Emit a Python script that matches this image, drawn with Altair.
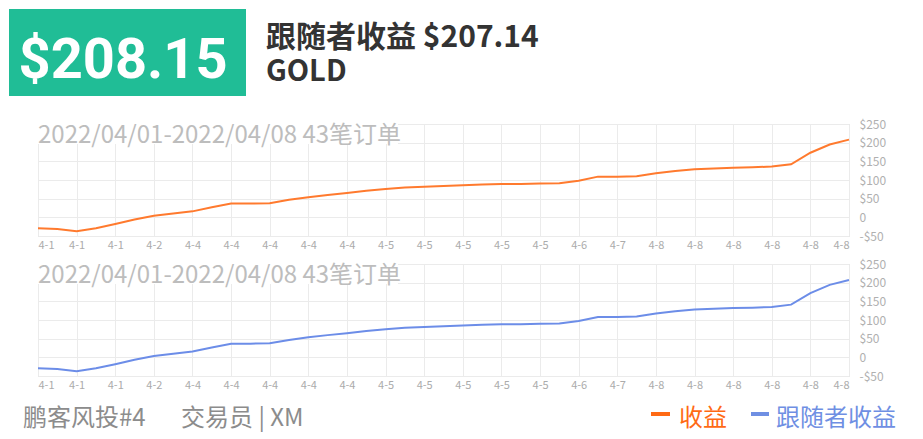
import altair as alt
import pandas as pd

# ---- data ----
order_dates = ['4-1', '4-1', '4-1', '4-1', '4-1', '4-2', '4-2', '4-4', '4-4', '4-4',
               '4-4', '4-4', '4-4', '4-4', '4-4', '4-4', '4-4', '4-5', '4-5', '4-5',
               '4-5', '4-5', '4-5', '4-5', '4-5', '4-5', '4-5', '4-6', '4-6', '4-6',
               '4-7', '4-8', '4-8', '4-8', '4-8', '4-8', '4-8', '4-8', '4-8', '4-8',
               '4-8', '4-8', '4-8']
profit = [-29, -31, -37, -29, -18, -6, 4, 10, 16, 27, 37, 37, 38, 47, 54, 60, 65, 71, 76, 80,
          82, 84, 86, 88, 89, 89.5, 90.5, 91, 98, 109, 109, 110, 118, 124, 129, 131, 133, 134,
          136, 142, 173, 195, 208.15]
follower = [-29.3, -31.3, -37.2, -29.3, -18.3, -6.3, 3.7, 9.7, 15.7, 26.6, 36.6, 36.6, 37.6, 46.6,
            53.6, 59.5, 64.5, 70.5, 75.5, 79.5, 81.5, 83.5, 85.5, 87.4, 88.4, 88.9, 89.9, 90.4,
            97.4, 108.3, 108.3, 109.3, 117.3, 123.2, 128.2, 130.2, 132.2, 133.1, 135.1, 141.1,
            172.1, 194.1, 207.14]
y_ticks = [-50, 0, 50, 100, 150, 200, 250]
x_label_every = 2

big_value = "$208.15"
title_text = "跟随者收益 $207.14"
symbol_text = "GOLD"
subtitle_text = "2022/04/01-2022/04/08 43笔订单"
footer_name = "鹏客风投#4"
footer_trader = "交易员 | XM"
legend_names = ["收益", "跟随者收益"]

ORANGE = "#FF7A2E"
ORANGE_TXT = "#FF6A14"
BLUE = "#6C8DE8"
BLUE_TXT = "#6F8FE3"
GREEN = "#20BD96"
CJK = "Noto Sans CJK SC"

df = pd.DataFrame({"idx": list(range(len(profit))), "date": order_dates,
                   "profit": profit, "follower": follower})

W, H = 811, 112
label_js = "[" + ",".join("'%s'" % d for d in order_dates) + "]"


def x_enc():
    return alt.X("idx:Q",
                 scale=alt.Scale(domain=[0, len(profit) - 1], nice=False, zero=False),
                 axis=alt.Axis(values=list(range(0, len(profit), x_label_every)),
                               labelExpr=label_js + "[datum.value]", title=None,
                               grid=True, ticks=False, domain=False,
                               labelFontSize=11, labelColor="#ABABAB", labelPadding=3,
                               labelFont=CJK, gridColor="#EBEBEB"))


def y_enc(field):
    return alt.Y(field + ":Q",
                 scale=alt.Scale(domain=[y_ticks[0], y_ticks[-1]], nice=False, zero=False),
                 axis=alt.Axis(orient="right", values=y_ticks, title=None,
                               labelExpr="datum.value == 0 ? '0' : (datum.value < 0 ? '-$' + abs(datum.value) : '$' + datum.value)",
                               grid=True, ticks=False, domain=False,
                               labelFontSize=12, labelColor="#B0B0B0", labelPadding=10,
                               labelFont=CJK, gridColor="#EBEBEB"))


one = alt.Data(values=[{}])


def text_layer(txt, x, y, size, color, weight="normal", align="left", font=CJK):
    return alt.Chart(one).mark_text(text=txt, align=align, baseline="alphabetic",
                                    fontSize=size, color=color, fontWeight=weight,
                                    font=font).encode(x=alt.value(x), y=alt.value(y))


def subtitle_layers():
    rect = alt.Chart(one).mark_rect(color="white").encode(
        x=alt.value(0), x2=alt.value(360), y=alt.value(-8), y2=alt.value(20))
    txt = text_layer(subtitle_text, 0, 19, 24, "#BDBDBD")
    return [rect, txt]


line_a = alt.Chart(df).mark_line(color=ORANGE, strokeWidth=2).encode(x=x_enc(), y=y_enc("profit"))
line_b = alt.Chart(df).mark_line(color=BLUE, strokeWidth=2).encode(x=x_enc(), y=y_enc("follower"))

green = alt.Chart(one).mark_rect(color=GREEN).encode(
    x=alt.value(-29), x2=alt.value(208), y=alt.value(-115), y2=alt.value(-28))
big = text_layer(big_value, 85, -46, 56, "white", "bold", "center", "Roboto")
title = text_layer(title_text, 228, -77, 30, "#333333", "bold")
gold = text_layer(symbol_text, 228, -43, 29, "#333333", "bold")

chart_a = alt.layer(*subtitle_layers(), line_a, green, big, title, gold).properties(width=W, height=H)

f1 = text_layer(footer_name, -15, 162, 24, "#8C8C8C")
f2 = text_layer(footer_trader, 143, 162, 24, "#8C8C8C")
leg1 = alt.Chart(one).mark_rule(color=ORANGE_TXT, strokeWidth=4).encode(
    x=alt.value(613), x2=alt.value(632), y=alt.value(150))
leg1t = text_layer(legend_names[0], 641, 162, 24, ORANGE_TXT)
leg2 = alt.Chart(one).mark_rule(color=BLUE_TXT, strokeWidth=4).encode(
    x=alt.value(713), x2=alt.value(731), y=alt.value(150))
leg2t = text_layer(legend_names[1], 738, 162, 24, BLUE_TXT)

chart_b = alt.layer(*subtitle_layers(), line_b, f1, f2, leg1, leg1t, leg2, leg2t).properties(width=W, height=H)

chart = alt.vconcat(chart_a, chart_b, spacing=28, bounds="flush").properties(
    padding=0, background="white"
).configure_view(stroke=None).configure(font=CJK)

chart.save("out.html", embed_options={"renderer": "svg", "actions": False})
